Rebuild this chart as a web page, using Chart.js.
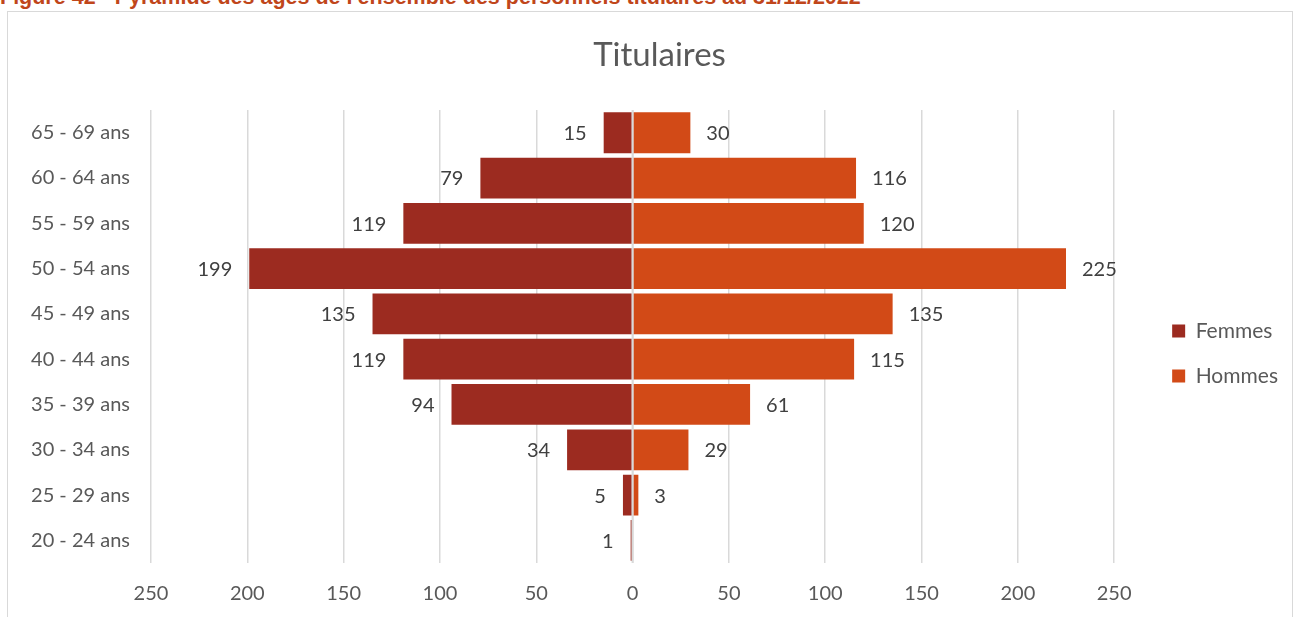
<!DOCTYPE html>
<html>
<head>
<meta charset="utf-8">
<script src="https://cdn.jsdelivr.net/npm/chart.js@4/dist/chart.umd.min.js"></script>
<style>
  html, body { margin: 0; padding: 0; width: 1296px; height: 617px; overflow: hidden; background: #fff; }
  #heading { position: absolute; left: 0; top: -13px; font: bold 21.5px "Liberation Sans", Arial, sans-serif; line-height: 21.5px; color: #C0461B; white-space: nowrap; }
  #box { position: absolute; left: 7px; top: 11px; width: 1286px; height: 640px; border: 1px solid #d9d9d9; box-sizing: border-box; }
  #wrap { position: absolute; left: 8px; top: 12px; width: 1284px; height: 615px; }
</style>
</head>
<body>
<div id="heading">Figure 42 - Pyramide des âges de l'ensemble des personnels titulaires au 31/12/2022</div>
<div id="box"></div>
<div id="wrap"><canvas id="c"></canvas></div>
<script>
const categories = ["65 - 69 ans", "60 - 64 ans", "55 - 59 ans", "50 - 54 ans", "45 - 49 ans", "40 - 44 ans", "35 - 39 ans", "30 - 34 ans", "25 - 29 ans", "20 - 24 ans"];
const femmes = [15, 79, 119, 199, 135, 119, 94, 34, 5, 1];
const hommes = [30, 116, 120, 225, 135, 115, 61, 29, 3, null];
const xTicks = [-250, -200, -150, -100, -50, 0, 50, 100, 150, 200, 250];

const FONT = "Lato, 'Open Sans', sans-serif";

const labelPlugin = {
  id: 'barLabels',
  afterDatasetsDraw(chart) {
    const ctx = chart.ctx;
    ctx.save();
    ctx.font = "20px " + FONT;
    ctx.fillStyle = "#404040";
    ctx.textBaseline = "middle";
    chart.data.datasets.forEach((ds, di) => {
      const meta = chart.getDatasetMeta(di);
      meta.data.forEach((el, i) => {
        const raw = ds.data[i];
        if (raw === null || raw === undefined) return;
        const v = Math.abs(raw);
        if (raw < 0) { ctx.textAlign = "right"; ctx.fillText(String(v), el.x - 17, el.y + 1); }
        else { ctx.textAlign = "left"; ctx.fillText(String(v), el.x + 16, el.y + 1); }
      });
    });
    // zero axis line
    const xs = chart.scales.x, area = chart.chartArea;
    const x0 = xs.getPixelForValue(0);
    ctx.strokeStyle = "#d9d9d9";
    ctx.lineWidth = 2;
    ctx.beginPath();
    ctx.moveTo(x0, area.top);
    ctx.lineTo(x0, area.bottom);
    ctx.stroke();
    ctx.restore();
  }
};

const shiftPlugin = {
  id: 'shiftBoxes',
  afterLayout(chart) {
    const t = chart.titleBlock;
    if (t) { t.left += 28.5; t.right += 28.5; }
    const l = chart.legend;
    if (l) { l.left += 34; l.right += 34; }
  }
};

new Chart(document.getElementById('c'), {
  type: 'bar',
  data: {
    labels: categories,
    datasets: [
      { label: 'Femmes', data: femmes.map(v => v === null ? null : -v), backgroundColor: '#9C2B20', borderWidth: 0, barPercentage: 0.9, categoryPercentage: 1.0 },
      { label: 'Hommes', data: hommes, backgroundColor: '#D24A17', borderWidth: 0, barPercentage: 0.9, categoryPercentage: 1.0 }
    ]
  },
  options: {
    indexAxis: 'y',
    responsive: true,
    maintainAspectRatio: false,
    animation: false,
    layout: { padding: { left: 0, right: 38, top: 0, bottom: 2 } },
    plugins: {
      title: { display: true, text: 'Titulaires', color: '#595959', font: { family: FONT, size: 33, weight: 'normal' }, padding: { top: 24, bottom: 34.5 } },
      legend: {
        position: 'right',
        title: { display: true, text: ' ', font: { size: 10 }, padding: { top: 58, bottom: 0 } },
        labels: { color: '#595959', font: { family: FONT, size: 21 }, boxWidth: 13, boxHeight: 13, padding: 24 }
      },
      tooltip: { enabled: false }
    },
    scales: {
      x: {
        stacked: true,
        min: -250, max: 250,
        afterBuildTicks(scale) { scale.ticks = xTicks.map(v => ({ value: v })); },
        ticks: { color: '#595959', font: { family: FONT, size: 20 }, callback: v => String(Math.abs(v)), padding: 19, maxRotation: 0 },
        grid: { color: '#d9d9d9', lineWidth: 1.5, drawTicks: false },
        border: { display: false }
      },
      y: {
        stacked: true,
        afterFit(scale) { scale.width = 143; },
        ticks: { color: '#595959', font: { family: FONT, size: 20 }, padding: 21 },
        grid: { display: false, drawTicks: false },
        border: { display: false }
      }
    }
  },
  plugins: [labelPlugin, shiftPlugin]
});
</script>
</body>
</html>
